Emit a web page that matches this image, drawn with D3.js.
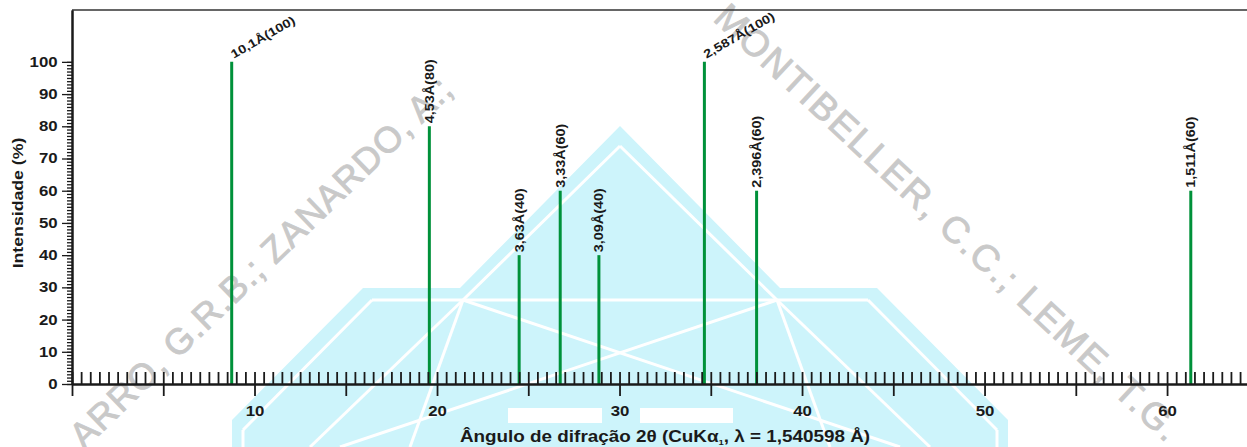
<!DOCTYPE html>
<meta charset="utf-8">
<style>
body { margin: 0; background: #fff; }
svg text { font-family: "Liberation Sans", Arial, sans-serif; font-weight: bold; fill: #1a1a1a; }
.wm { font-weight: normal; fill: #c9c9c9; stroke: #c9c9c9; stroke-width: 0.9px; }
</style>
<svg width="1247" height="447" id="chart"></svg>
<script src="https://cdn.jsdelivr.net/npm/d3@7"></script>
<script>
// peak positions (2theta, degrees), relative intensity and d-spacing labels
var twoTheta = [8.75, 19.58, 24.50, 26.75, 28.87, 34.65, 37.51, 61.30];
var intensity = [100, 80, 40, 60, 40, 100, 60, 60];
var peakLabels = ["10,1Å(100)", "4,53Å(80)", "3,63Å(40)", "3,33Å(60)", "3,09Å(40)", "2,587Å(100)", "2,396Å(60)", "1,511Å(60)"];
var xTickLabels = [10, 20, 30, 40, 50, 60];
var yTickLabels = [0, 10, 20, 30, 40, 50, 60, 70, 80, 90, 100];

var width = 1247, height = 447;
var svg = d3.select("#chart");

var x = d3.scaleLinear().domain([0, 64.38]).range([72, 1247]);
var y = d3.scaleLinear().domain([0, 116.1]).range([384, 10]);

// watermark in the background
var wm = svg.append("g").attr("class", "watermark");
wm.append("polygon")
  .attr("points", "620,126 780,288 877,288 1008,420 1008,447 232,447 232,420 363,288 460,288")
  .style("fill", "#cdf4fb");
var wl = [
  [[372,300],[868,300]], [[372,300],[243,430]], [[243,430],[243,447]],
  [[868,300],[997,430]], [[997,430],[997,447]],
  [[620,146],[463,300]], [[463,300],[310,447]],
  [[620,146],[777,300]], [[777,300],[930,447]],
  [[463,300],[410,447]], [[777,300],[830,447]],
  [[463,300],[900,447]], [[777,300],[340,447]]
];
wm.selectAll("line.w").data(wl).enter().append("line")
  .attr("x1", d => d[0][0]).attr("y1", d => d[0][1])
  .attr("x2", d => d[1][0]).attr("y2", d => d[1][1])
  .style("stroke", "#fff").style("stroke-width", 3);
wm.append("rect").attr("x", 508).attr("y", 408).attr("width", 94).attr("height", 15).style("fill", "#fff");
wm.append("rect").attr("x", 640).attr("y", 408).attr("width", 93).attr("height", 15).style("fill", "#fff");

wm.append("text").attr("class", "wm")
  .attr("transform", "translate(84,450) rotate(-44)")
  .style("font-size", "36px").style("letter-spacing", "1px")
  .text("ARRO, G.R.B.; ZANARDO, A.;");
wm.append("text").attr("class", "wm")
  .attr("transform", "translate(712,20) rotate(43)")
  .style("font-size", "37px").style("letter-spacing", "2px")
  .text("MONTIBELLER, C.C.; LEME, T.G.");

// frame top line
svg.append("line")
  .attr("x1", x(0)).attr("x2", width).attr("y1", y.range()[1]).attr("y2", y.range()[1])
  .style("stroke", "#333").style("stroke-width", 1.5);

// peaks
var peaks = svg.append("g").attr("class", "peaks");
peaks.selectAll("line").data(twoTheta).enter().append("line")
  .attr("x1", d => x(d)).attr("x2", d => x(d))
  .attr("y1", y(0)).attr("y2", (d, i) => y(intensity[i]))
  .style("stroke", "#00913a").style("stroke-width", 3);

peaks.selectAll("text").data(twoTheta).enter().append("text")
  .attr("transform", function(d, i) {
    if (intensity[i] === 100) {
      return "translate(" + (x(d) + 2) + "," + (y(intensity[i]) - 3) + ") rotate(-30) scale(1.2,1)";
    }
    return "translate(" + (x(d) + 4.5) + "," + (y(intensity[i]) - 3) + ") rotate(-90) scale(1.2,1)";
  })
  .style("font-size", "12px")
  .text((d, i) => peakLabels[i]);

// x axis: minor ticks up, major ticks down
var gx = svg.append("g").attr("transform", "translate(0," + y(0) + ")");
gx.append("g").call(d3.axisBottom(x).tickValues(d3.range(0, 64.4, 0.5)).tickSizeInner(-12).tickSizeOuter(0).tickFormat(""));
gx.append("g").call(d3.axisBottom(x).tickValues(d3.range(0, 64.4, 5)).tickSizeInner(12).tickSizeOuter(0).tickPadding(10)
  .tickFormat(d => xTickLabels.indexOf(d) >= 0 ? d : ""));
gx.selectAll("path.domain").style("stroke", "#1a1a1a").style("stroke-width", 2);
gx.selectAll(".tick line").style("stroke", "#1a1a1a").style("stroke-width", 1.8);
gx.selectAll(".tick text")
  .attr("fill", "#1a1a1a").attr("font-family", null).attr("font-size", null)
  .style("font-size", "14px").attr("transform", "scale(1.2,1)");

// y axis
var gy = svg.append("g").attr("transform", "translate(" + x(0) + ",0)");
gy.append("g").call(d3.axisLeft(y).tickValues(d3.range(0, 101, 1)).tickSize(5).tickSizeOuter(0).tickFormat(""));
gy.append("g").call(d3.axisLeft(y).tickValues(yTickLabels).tickSize(10).tickSizeOuter(0).tickPadding(2));
gy.selectAll("path.domain").style("stroke", "#1a1a1a").style("stroke-width", 2);
gy.selectAll(".tick line").style("stroke", "#1a1a1a").style("stroke-width", 1.3);
gy.selectAll(".tick text")
  .attr("fill", "#1a1a1a").attr("font-family", null).attr("font-size", null)
  .style("font-size", "14px").attr("transform", "scale(1.2,1)");

// axis titles
var xt = svg.append("text")
  .attr("transform", "translate(665,442) scale(1.18,1)")
  .attr("text-anchor", "middle")
  .style("font-size", "16px");
xt.append("tspan").text("Ângulo de difração 2θ (CuKα");
xt.append("tspan").attr("dy", 3).style("font-size", "8px").text("1");
xt.append("tspan").attr("dy", -3).text(", λ = 1,540598 Å)");

svg.append("text")
  .attr("transform", "translate(23,203) rotate(-90) scale(1.18,1)")
  .attr("text-anchor", "middle")
  .style("font-size", "15px")
  .text("Intensidade (%)");
</script>
